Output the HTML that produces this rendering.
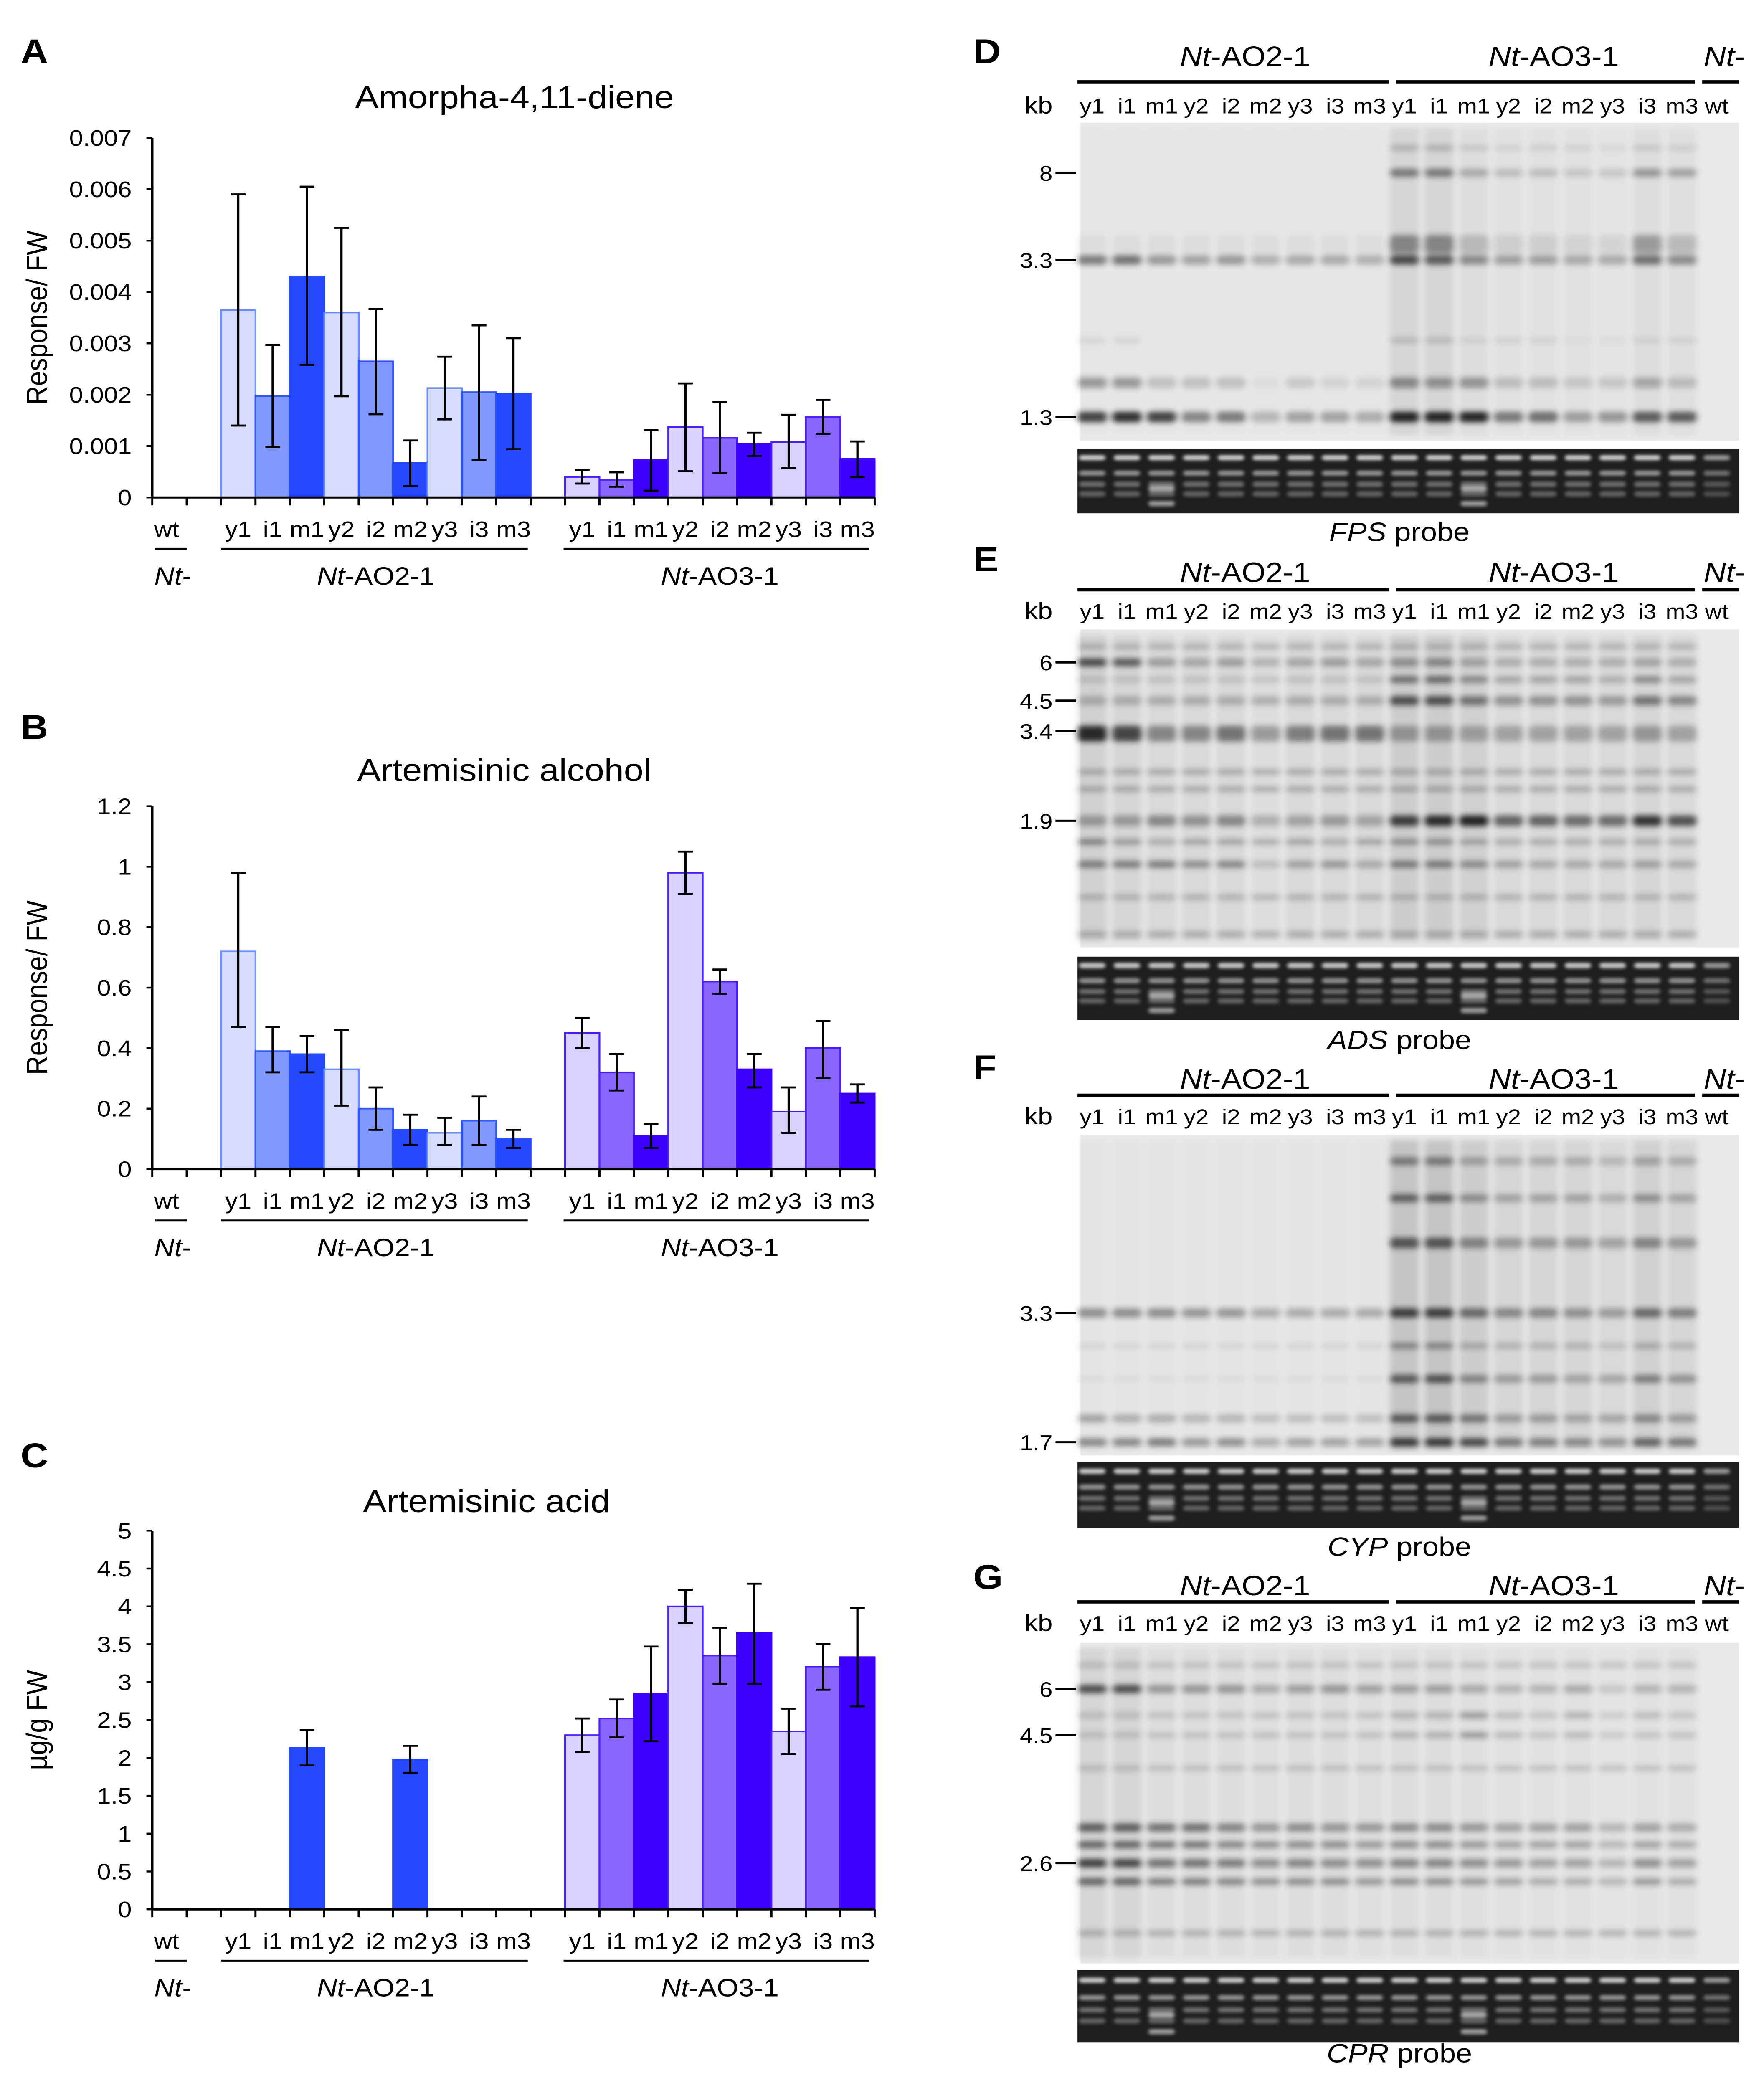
<!DOCTYPE html>
<html><head><meta charset="utf-8">
<style>
html,body{margin:0;padding:0;background:#fff;width:100%;height:100%;overflow:hidden;}
svg{display:block;width:100vw;height:100vh;font-family:"Liberation Sans",Arial,sans-serif;}
</style></head>
<body>
<svg id="fig" viewBox="0 0 1200 1582.4" preserveAspectRatio="none" xmlns="http://www.w3.org/2000/svg">
<defs>
<filter id="blur" x="-20%" y="-20%" width="140%" height="140%"><feGaussianBlur stdDeviation="2.2"/></filter>
<filter id="blur2" x="-20%" y="-20%" width="140%" height="140%"><feGaussianBlur stdDeviation="1.2"/></filter>
</defs>
</svg>
<script>
// ---------- chart data ----------
const categories = ["y1","i1","m1","y2","i2","m2","y3","i3","m3"];
const groups = ["Nt-AO2-1","Nt-AO3-1"];
const ado2Vals = [0.00365,0.00197,0.0043,0.0036,0.00265,0.00067,0.00213,0.00205,0.00202];
const ado2Lo   = [0.0014,0.00098,0.00258,0.00197,0.00162,0.00022,0.00152,0.00073,0.00094];
const ado2Hi   = [0.0059,0.00297,0.00605,0.00525,0.00367,0.00111,0.00274,0.00335,0.0031];
const ado3Vals = [0.0004,0.00034,0.00073,0.00137,0.00116,0.00104,0.00108,0.00157,0.00075];
const ado3Lo   = [0.00027,0.00021,0.00013,0.00051,0.00047,0.00081,0.00057,0.00124,0.0004];
const ado3Hi   = [0.00054,0.00049,0.00131,0.00222,0.00186,0.00126,0.00161,0.0019,0.00109];
const aTicks = ["0","0.001","0.002","0.003","0.004","0.005","0.006","0.007"];
const alc2Vals = [0.72,0.39,0.38,0.33,0.2,0.13,0.12,0.16,0.1];
const alc2Lo   = [0.47,0.32,0.32,0.21,0.13,0.08,0.08,0.08,0.07];
const alc2Hi   = [0.98,0.47,0.44,0.46,0.27,0.18,0.17,0.24,0.13];
const alc3Vals = [0.45,0.32,0.11,0.98,0.62,0.33,0.19,0.4,0.25];
const alc3Lo   = [0.4,0.26,0.07,0.91,0.58,0.27,0.12,0.3,0.22];
const alc3Hi   = [0.5,0.38,0.15,1.05,0.66,0.38,0.27,0.49,0.28];
const bTicks = ["0","0.2","0.4","0.6","0.8","1","1.2"];
const acid2Vals = [0,0,2.13,0,0,1.98,0,0,0];
const acid2Lo   = [null,null,1.9,null,null,1.8,null,null,null];
const acid2Hi   = [null,null,2.37,null,null,2.16,null,null,null];
const acid3Vals = [2.3,2.52,2.85,4.0,3.35,3.65,2.35,3.2,3.33];
const acid3Lo   = [2.08,2.27,2.22,3.78,2.98,2.98,2.05,2.9,2.68];
const acid3Hi   = [2.52,2.77,3.47,4.22,3.72,4.3,2.65,3.5,3.98];
const cTicks = ["0","0.5","1","1.5","2","2.5","3","3.5","4","4.5","5"];

const NS="http://www.w3.org/2000/svg";
const svg=document.getElementById('fig');
function mk(tag,attrs,parent){const e=document.createElementNS(NS,tag);for(const k in attrs)e.setAttribute(k,attrs[k]);(parent||svg).appendChild(e);return e;}
function txt(s,attrs,parent){const e=mk('text',attrs,parent);e.textContent=s;return e;}
function ntText(rest,attrs,parent){const e=mk('text',attrs,parent);const t1=document.createElementNS(NS,'tspan');t1.setAttribute('font-style','italic');t1.textContent='Nt';e.appendChild(t1);const t2=document.createElementNS(NS,'tspan');t2.textContent=rest;e.appendChild(t2);return e;}

const fill2=["#d6ddff","#7f98ff","#2448ff"], stroke2=["#6b8cff","#2f55ff","#2448ff"];
const fill3=["#d9d1ff","#8a66ff","#3c00ff"], stroke3=["#4a1fff","#4a1fff","#3c00ff"];

function chart(cfg){
  const g=mk('g',{});
  
  
  const x0=103.6, slot=23.4, y0=cfg.y0, yTop=cfg.yTop, max=cfg.max;
  const ys=v=>y0-(v/max)*(y0-yTop);
  const xs=i=>x0+i*slot;
  const l=txt(cfg.letter,{x:14,y:cfg.letterY,'font-size':26,'font-weight':'bold'},g);
  
  const t=txt(cfg.title,{x:cfg.titleX,y:cfg.titleY,'font-size':24,'text-anchor':'middle'},g);
  
  const yt=txt(cfg.ytitle,{x:0,y:0,'font-size':20,'text-anchor':'middle',transform:`translate(32,${(y0+yTop)/2}) rotate(-90)`},g);
  
  function series(vals,lo,hi,start,fills,strokes,gname){
    vals.forEach((v,i)=>{
      const k=i%3; const x=xs(start+i);
      if(v>0){
        const r=mk('rect',{x:x,y:ys(v),width:slot,height:y0-ys(v),fill:fills[k],stroke:strokes[k],'stroke-width':1.2},g);
        
      }
      if(lo[i]!=null){
        const cx=x+slot/2;
        const e=mk('path',{d:`M${cx},${ys(hi[i])}V${ys(lo[i])}M${cx-5},${ys(hi[i])}H${cx+5}M${cx-5},${ys(lo[i])}H${cx+5}`,stroke:'#000','stroke-width':1.5,fill:'none'},g);
        
      }
    });
  }
  series(cfg.v2,cfg.l2,cfg.h2,2,fill2,stroke2,'ao2');
  series(cfg.v3,cfg.l3,cfg.h3,12,fill3,stroke3,'ao3');
  const ya=mk('path',{d:`M${x0},${yTop}V${y0}`,stroke:'#000','stroke-width':1.6},g);
  
  const xa=mk('path',{d:`M${x0},${y0}H${xs(21)}`,stroke:'#000','stroke-width':1.6},g);
  
  cfg.ticks.forEach((s,i)=>{
    const v=i*max/(cfg.ticks.length-1);const y=ys(v);
    mk('path',{d:`M${x0-4},${y}H${x0}`,stroke:'#000','stroke-width':1.4},g);
    const tl=txt(s,{x:x0-14,y:y+6,'font-size':17,'text-anchor':'end'},g);
    
  });
  for(let i=0;i<=21;i++){mk('path',{d:`M${xs(i)},${y0}V${y0+6}`,stroke:'#000','stroke-width':1.4},g);}
  const ly=y0+30;
  const wt=txt('wt',{x:xs(0)+slot/2-2,y:ly,'font-size':17,'text-anchor':'middle'},g);
  
  [2,12].forEach((s,gi)=>{categories.forEach((c,i)=>{
    const e=txt(c,{x:xs(s+i)+slot/2,y:ly,'font-size':17,'text-anchor':'middle'},g);
    
  });});
  mk('path',{d:`M${xs(0)+2},${y0+39}H${xs(1)}`,stroke:'#000','stroke-width':1.6},g);
  mk('path',{d:`M${xs(2)},${y0+39}H${xs(11)-2}`,stroke:'#000','stroke-width':1.6},g);
  mk('path',{d:`M${xs(12)-1},${y0+39}H${xs(21)-4}`,stroke:'#000','stroke-width':1.6},g);
  const gy=y0+66;
  const n1=ntText('-',{x:xs(0)+14,y:gy,'font-size':19,'text-anchor':'middle'},g);
  
  const n2=ntText('-AO2-1',{x:(xs(2)+xs(11))/2,y:gy,'font-size':19,'text-anchor':'middle'},g);
  
  const n3=ntText('-AO3-1',{x:(xs(12)+xs(21))/2,y:gy,'font-size':19,'text-anchor':'middle'},g);
  
}
chart({name:'chart-amorphadiene',letter:'A',letterY:48,title:'Amorpha-4,11-diene',titleX:350,titleY:82,ytitle:'Response/ FW',y0:377,yTop:104.5,max:0.007,ticks:aTicks,v2:ado2Vals,l2:ado2Lo,h2:ado2Hi,v3:ado3Vals,l3:ado3Lo,h3:ado3Hi});
chart({name:'chart-artemisinic-alcohol',letter:'B',letterY:560,title:'Artemisinic alcohol',titleX:343,titleY:592,ytitle:'Response/ FW',y0:886,yTop:611,max:1.2,ticks:bTicks,v2:alc2Vals,l2:alc2Lo,h2:alc2Hi,v3:alc3Vals,l3:alc3Lo,h3:alc3Hi});
chart({name:'chart-artemisinic-acid',letter:'C',letterY:1112,title:'Artemisinic acid',titleX:331,titleY:1146,ytitle:'µg/g FW',y0:1447,yTop:1160,max:5,ticks:cTicks,v2:acid2Vals,l2:acid2Lo,h2:acid2Hi,v3:acid3Vals,l3:acid3Lo,h3:acid3Hi});

// ---------- blots ----------
const lanes=["y1","i1","m1","y2","i2","m2","y3","i3","m3","y1","i1","m1","y2","i2","m2","y3","i3","m3","wt"];
const laneX=i=>743+i*23.6;
function rep(v,n){return Array(n).fill(v);}
const blots=[
 {letter:'D',top:30,hdr:50,line:62,lab:80,by0:93,by1:334,gy0:340,gy1:389,probe:'FPS',py:410,
  marks:[['8',131],['3.3',197],['1.3',316]],
  smear:[...rep(.05,9),.25,.25,.15,.1,.1,.1,.08,.15,.12,0],
  bands:[[112,4,[...rep(0,9),.25,.25,.15,.1,.12,.1,.08,.15,.12,0]],
   [131,6,[...rep(0,9),.55,.55,.3,.2,.2,.15,.15,.4,.35,0]],
   [185,14,[...rep(.05,9),.45,.45,.2,.1,.1,.08,.08,.35,.2,0]],
   [197,7,[.55,.6,.4,.35,.4,.28,.32,.32,.28,.8,.7,.45,.35,.35,.3,.3,.6,.45,0]],
   [258,4,[.1,.1,0,0,0,0,0,0,0,.2,.2,.1,.1,.1,.05,.05,.1,.1,0]],
   [290,8,[.4,.4,.2,.2,.2,.05,.15,.1,.1,.45,.4,.4,.2,.2,.15,.15,.3,.2,0]],
   [316,8,[.85,.95,.85,.5,.55,.25,.35,.35,.3,1,1,1,.55,.6,.35,.4,.7,.7,0]]]},
 {letter:'E',top:415,hdr:441,line:447,lab:463,by0:477,by1:718,gy0:725,gy1:773,probe:'ADS',py:795,
  marks:[['6',502],['4.5',531],['3.4',554],['1.9',622]],
  smear:[.3,.25,.2,.2,.2,.15,.2,.2,.2,.35,.35,.3,.2,.2,.2,.2,.25,.2,0],
  bands:[[490,4,[...rep(.25,18),0]],
   [502,6,[.8,.7,.35,.3,.35,.25,.3,.35,.3,.4,.45,.3,.25,.25,.25,.25,.3,.25,0]],
   [515,5,[...rep(.15,9),.6,.65,.45,.3,.3,.3,.25,.45,.3,0]],
   [531,7,[...rep(.25,9),.75,.75,.55,.4,.4,.4,.35,.55,.45,0]],
   [556,12,[.95,.8,.45,.45,.55,.35,.5,.55,.55,.35,.35,.3,.3,.3,.3,.3,.35,.3,0]],
   [585,4,[...rep(.3,18),0]],[598,4,[...rep(.3,18),0]],
   [622,8,[.35,.35,.45,.4,.45,.25,.3,.35,.3,.85,.95,1,.65,.65,.6,.6,.9,.75,0]],
   [638,4,[.55,.4,.3,.35,.35,.3,.35,.3,.35,.45,.45,.35,.3,.3,.3,.3,.3,.3,0]],
   [655,5,[.55,.55,.55,.45,.5,.2,.35,.4,.3,.55,.55,.45,.35,.3,.3,.3,.35,.3,0]],
   [680,4,[...rep(.25,18),0]],[708,4,[...rep(.3,18),0]]]},
 {letter:'F',top:800,hdr:825,line:830,lab:846,by0:860,by1:1103,gy0:1108,gy1:1158,probe:'CYP',py:1179,
  marks:[['3.3',995],['1.7',1093]],
  smear:[...rep(.06,9),.45,.45,.35,.25,.25,.25,.2,.3,.25,0],
  bands:[[880,6,[...rep(0,9),.5,.5,.3,.25,.25,.25,.2,.3,.25,0]],
   [908,6,[...rep(0,9),.65,.65,.4,.3,.3,.3,.25,.4,.3,0]],
   [942,8,[...rep(0,9),.7,.7,.45,.35,.35,.35,.3,.45,.35,0]],
   [995,7,[.45,.45,.45,.4,.4,.3,.3,.3,.3,.85,.85,.6,.45,.45,.4,.35,.6,.5,0]],
   [1020,4,[...rep(.1,9),.5,.5,.3,.25,.25,.25,.2,.3,.25,0]],
   [1045,6,[...rep(.05,9),.7,.75,.45,.35,.35,.3,.3,.5,.4,0]],
   [1075,6,[.35,.3,.3,.25,.25,.2,.2,.2,.2,.7,.7,.55,.35,.35,.3,.3,.45,.35,0]],
   [1093,6,[.5,.5,.55,.4,.45,.3,.35,.35,.35,.9,.9,.8,.55,.5,.45,.4,.65,.55,0]]]},
 {letter:'G',top:1186,hdr:1209,line:1214,lab:1230,by0:1245,by1:1488,gy0:1493,gy1:1548,probe:'CPR',py:1563,
  marks:[['6',1280],['4.5',1315],['2.6',1412]],
  smear:[.25,.25,.15,.15,.15,.12,.15,.15,.12,.15,.15,.12,.1,.1,.1,.08,.1,.1,0],
  bands:[[1262,4,[...rep(.2,18),0]],
   [1280,6,[.8,.8,.4,.4,.4,.3,.35,.4,.35,.35,.35,.3,.25,.25,.3,.15,.25,.25,0]],
   [1300,4,[...rep(.2,9),.3,.3,.45,.25,.2,.3,.15,.25,.2,0]],
   [1315,4,[...rep(.2,9),.3,.3,.45,.25,.2,.25,.15,.2,.2,0]],
   [1340,4,[...rep(.2,18),0]],
   [1385,6,[.7,.7,.6,.6,.5,.4,.45,.4,.4,.45,.45,.4,.35,.35,.35,.25,.35,.3,0]],
   [1398,5,[.7,.7,.6,.6,.5,.45,.45,.45,.4,.45,.45,.4,.35,.35,.35,.25,.35,.3,0]],
   [1412,6,[.9,.85,.6,.6,.55,.45,.5,.45,.45,.5,.5,.45,.4,.35,.35,.25,.45,.35,0]],
   [1426,5,[.7,.7,.55,.55,.5,.45,.45,.45,.4,.45,.45,.4,.35,.3,.3,.25,.4,.3,0]],
   [1465,4,[...rep(.3,18),0]]]}
];
blots.forEach(b=>{
  const g=mk('g',{});
  
  
  const L=txt(b.letter,{x:662,y:b.top+18,'font-size':26,'font-weight':'bold'},g);
  
  const h1=ntText('-AO2-1',{x:847,y:b.hdr,'font-size':21,'text-anchor':'middle'},g);
  
  const h2=ntText('-AO3-1',{x:1057,y:b.hdr,'font-size':21,'text-anchor':'middle'},g);
  
  const h3=ntText('-',{x:1159,y:b.hdr,'font-size':21},g);
  
  mk('path',{d:`M733,${b.line}H945M950,${b.line}H1153M1158,${b.line}H1183`,stroke:'#000','stroke-width':2.4},g);
  const kb=txt('kb',{x:697,y:b.lab+6,'font-size':18},g);
  
  lanes.forEach((s,i)=>{const e=txt(s,{x:laneX(i),y:b.lab+6,'font-size':16,'text-anchor':'middle'},g);
    });
  const bg=mk('rect',{x:735,y:b.by0,width:448,height:b.by1-b.by0,fill:'#e9e9e9'},g);
  
  const bandG=mk('g',{filter:'url(#blur)'},g);
  b.smear.forEach((v,i)=>{if(v>0)mk('rect',{x:laneX(i)-10,y:b.by0+4,width:20,height:b.by1-b.by0-8,fill:'#000','fill-opacity':v*0.35},bandG);});
  b.bands.forEach(([y,h,vals])=>{vals.forEach((v,i)=>{if(v>0)mk('rect',{x:laneX(i)-10,y:y-h/2,width:20,height:h,rx:3,fill:'#000','fill-opacity':Math.min(1,v*0.85)},bandG);});});
  b.marks.forEach(([s,y])=>{
    mk('path',{d:`M718,${y}H732`,stroke:'#000','stroke-width':1.6},g);
    const e=txt(s,{x:716,y:y+6,'font-size':16,'text-anchor':'end'},g);
    
  });
  const gel=mk('rect',{x:733,y:b.gy0,width:450,height:b.gy1-b.gy0,fill:'#1e1e1e'},g);
  
  const gg=mk('g',{filter:'url(#blur2)'},g);
  const H=b.gy1-b.gy0;
  lanes.forEach((s,i)=>{
    const rows=[[0.14,.75],[0.38,.5],[0.55,.35],[0.7,.3]];
    if(i===2||i===11)rows.push([0.62,.6],[0.85,.55]);
    rows.forEach(([f,o])=>mk('rect',{x:laneX(i)-9,y:b.gy0+f*H-2,width:18,height:4,rx:2,fill:'#fff','fill-opacity':o*(i===18?.7:1)},gg));
  });
  const p=mk('text',{x:952,y:b.py,'font-size':20,'text-anchor':'middle'},g);
  const t1=document.createElementNS(NS,'tspan');t1.setAttribute('font-style','italic');t1.textContent=b.probe;p.appendChild(t1);
  const t2=document.createElementNS(NS,'tspan');t2.textContent=' probe';p.appendChild(t2);
  
});
</script>
</body></html>
